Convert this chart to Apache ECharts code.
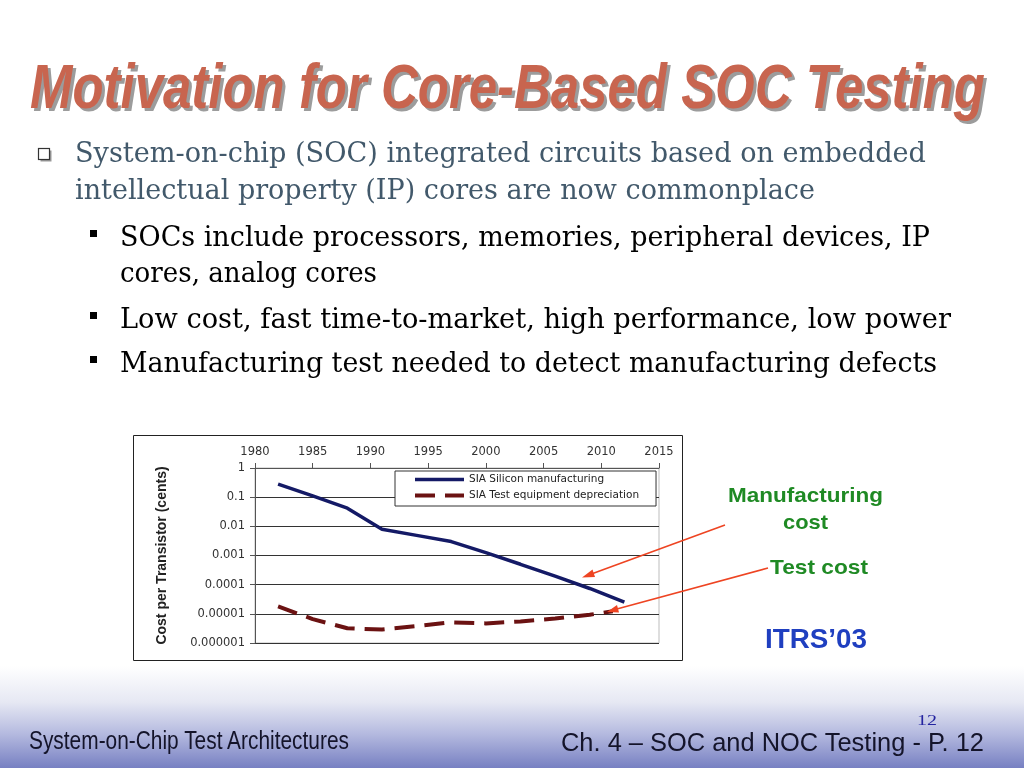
<!DOCTYPE html>
<html>
<head>
<meta charset="utf-8">
<script src="https://cdn.jsdelivr.net/npm/echarts@6/dist/echarts.min.js"></script>
<style>
  html, body { margin:0; padding:0; }
  body {
    width:1024px; height:768px; overflow:hidden; position:relative;
    background: linear-gradient(to bottom, #ffffff 0px, #ffffff 666px, #e6e8f3 702px, #b6bbe0 733px, #7780c2 768px);
  }
  #chart { position:absolute; left:0; top:0; width:1024px; height:768px; }
  #overlay { position:absolute; left:0; top:0; width:1024px; height:768px; pointer-events:none; }
</style>
</head>
<body>
<div id="chart"></div>
<svg id="overlay" width="1024" height="768" xmlns="http://www.w3.org/2000/svg">
  <!-- Title -->
  <text x="33" y="111" textLength="955" lengthAdjust="spacingAndGlyphs" font-family="'Liberation Sans',Arial,sans-serif" font-weight="bold" font-style="italic" font-size="63" fill="#9c9c9c">Motivation for Core-Based SOC Testing</text>
  <text x="30" y="108" textLength="955" lengthAdjust="spacingAndGlyphs" font-family="'Liberation Sans',Arial,sans-serif" font-weight="bold" font-style="italic" font-size="63" fill="#c8654f">Motivation for Core-Based SOC Testing</text>

  <!-- Bullets -->
  <rect x="40.5" y="150.5" width="11" height="11" fill="#9a9a9a"/>
  <rect x="38.5" y="148.5" width="11" height="11" fill="#ffffff" stroke="#333" stroke-width="1.2"/>
  <g font-family="'DejaVu Serif',serif" font-size="28">
    <text x="75" y="162" textLength="851" lengthAdjust="spacingAndGlyphs" fill="#42596b">System-on-chip (SOC) integrated circuits based on embedded</text>
    <text x="75" y="199" textLength="740" lengthAdjust="spacingAndGlyphs" fill="#42596b">intellectual property (IP) cores are now commonplace</text>
    <text x="120" y="246" textLength="810" lengthAdjust="spacingAndGlyphs" fill="#000">SOCs include processors, memories, peripheral devices, IP</text>
    <text x="120" y="282" textLength="257" lengthAdjust="spacingAndGlyphs" fill="#000">cores, analog cores</text>
    <text x="120" y="328" textLength="831" lengthAdjust="spacingAndGlyphs" fill="#000">Low cost, fast time-to-market, high performance, low power</text>
    <text x="120" y="372" textLength="817" lengthAdjust="spacingAndGlyphs" fill="#000">Manufacturing test needed to detect manufacturing defects</text>
  </g>
  <rect x="90" y="230" width="7" height="7" fill="#000"/>
  <rect x="90" y="312" width="7" height="7" fill="#000"/>
  <rect x="90" y="356" width="7" height="7" fill="#000"/>

  <!-- Annotations -->
  <g font-family="'Liberation Sans',Arial,sans-serif" font-weight="bold">
    <text x="728" y="502" textLength="155" lengthAdjust="spacingAndGlyphs" font-size="21" fill="#1f8a24">Manufacturing</text>
    <text x="783" y="529" textLength="45" lengthAdjust="spacingAndGlyphs" font-size="21" fill="#1f8a24">cost</text>
    <text x="770" y="574" textLength="98" lengthAdjust="spacingAndGlyphs" font-size="21" fill="#1f8a24">Test cost</text>
    <text x="765" y="648" textLength="102" lengthAdjust="spacingAndGlyphs" font-size="27" fill="#1f3fc0">ITRS’03</text>
  </g>
  <g stroke="#ee4422" stroke-width="1.6" fill="#ee4422">
    <line x1="725" y1="525" x2="590" y2="574.5"/>
    <polygon points="582,577.5 592.5,569.5 595,577" stroke="none"/>
    <line x1="768" y1="568" x2="615" y2="609.5"/>
    <polygon points="607,612 617,605 619,612.5" stroke="none"/>
  </g>

  <!-- Footer -->
  <text x="29" y="749" textLength="320" lengthAdjust="spacingAndGlyphs" font-family="'Liberation Sans',Arial,sans-serif" font-size="25" fill="#14142a">System-on-Chip Test Architectures</text>
  <text x="561" y="751" textLength="423" lengthAdjust="spacingAndGlyphs" font-family="'Liberation Sans',Arial,sans-serif" font-size="26" fill="#14142a">Ch. 4 – SOC and NOC Testing - P. 12</text>
  <text x="917" y="725" textLength="20" lengthAdjust="spacingAndGlyphs" font-family="'Liberation Serif',serif" font-size="15" fill="#2424a0">12</text>
</svg>
<script>
// ---- Data ----
const xTickYears = [1980, 1985, 1990, 1995, 2000, 2005, 2010, 2015];
const yTickLabels = ['1', '0.1', '0.01', '0.001', '0.0001', '0.00001', '0.000001'];

const siliconYears = [1982, 1985, 1988, 1991, 1994, 1997, 2000, 2003, 2006, 2009, 2012];
const siliconCost  = [0.28, 0.11, 0.042, 0.0079, 0.0049, 0.003, 0.00126, 0.0005, 0.000195, 0.000074, 0.000025];

const testYears = [1982, 1985, 1988, 1991, 1994, 1997, 2000, 2003, 2006, 2009, 2011];
const testCost  = [0.000018, 0.0000066, 0.0000032, 0.0000029, 0.0000038, 0.0000051, 0.0000047, 0.0000055, 0.0000069, 0.0000093, 0.0000123];

const seriesNames = ['SIA Silicon manufacturing', 'SIA Test equipment depreciation'];
const yAxisTitle = 'Cost per Transistor (cents)';

const siliconColor = '#141a66';
const testColor = '#6b1212';
const testDash = [20, 10];

const chart = echarts.init(document.getElementById('chart'), null, { renderer: 'canvas' });

const toPairs = (xs, ys) => xs.map((x, i) => [x, ys[i]]);

chart.setOption({
  backgroundColor: 'transparent',
  animation: false,
  graphic: [{
    type: 'rect',
    z: -10,
    shape: { x: 133.5, y: 435.5, width: 549, height: 225 },
    style: { fill: '#ffffff', stroke: '#222222', lineWidth: 1 }
  }],
  grid: {
    left: 255, top: 468, width: 404, height: 175,
    show: true, borderColor: '#bdbdbd', borderWidth: 1, backgroundColor: 'transparent'
  },
  legend: {
    orient: 'vertical',
    left: 395, top: 471,
    data: [
      { name: seriesNames[0], lineStyle: { color: siliconColor, width: 3.5, type: 'solid' } },
      { name: seriesNames[1], lineStyle: { color: testColor, width: 4, type: testDash } }
    ],
    itemWidth: 49, itemHeight: 10, itemGap: 5,
    padding: [3, 17, 5, 18],
    backgroundColor: '#ffffff',
    borderColor: '#333333', borderWidth: 1,
    itemStyle: { color: 'rgba(0,0,0,0)', borderColor: 'rgba(0,0,0,0)', borderWidth: 0, opacity: 0 },
    textStyle: { fontFamily: 'DejaVu Sans', fontSize: 10.5, color: '#222' }
  },
  xAxis: {
    type: 'value', position: 'top',
    min: xTickYears[0], max: xTickYears[xTickYears.length - 1], interval: 5,
    axisLine: { show: true, lineStyle: { color: '#555', width: 1 } },
    axisTick: { show: true, inside: false, length: 5, lineStyle: { color: '#555' } },
    axisLabel: { color: '#333', fontFamily: 'DejaVu Sans', fontSize: 11.5, margin: 10,
      formatter: v => String(v) },
    splitLine: { show: false }
  },
  yAxis: {
    type: 'log', logBase: 10, min: 1e-6, max: 1,
    name: yAxisTitle, nameLocation: 'middle', nameGap: 86, nameRotate: 90,
    nameTextStyle: { fontFamily: 'Liberation Sans', fontWeight: 'bold', fontSize: 14, color: '#222' },
    axisLine: { show: true, lineStyle: { color: '#555', width: 1 } },
    axisTick: { show: true, inside: false, length: 5, lineStyle: { color: '#555' } },
    axisLabel: { color: '#333', fontFamily: 'DejaVu Sans', fontSize: 11.5, margin: 10,
      formatter: v => { const e = Math.round(Math.log10(v)); return yTickLabels[-e] !== undefined ? yTickLabels[-e] : ''; } },
    splitLine: { show: true, lineStyle: { color: '#333', width: 1 } }
  },
  series: [
    {
      name: seriesNames[0], type: 'line', data: toPairs(siliconYears, siliconCost),
      symbol: 'none', smooth: false,
      lineStyle: { color: siliconColor, width: 3.5 },
      itemStyle: { color: siliconColor }
    },
    {
      name: seriesNames[1], type: 'line', data: toPairs(testYears, testCost),
      symbol: 'none', smooth: false,
      lineStyle: { color: testColor, width: 4, type: testDash },
      itemStyle: { color: testColor }
    }
  ]
});
</script>
</body>
</html>
